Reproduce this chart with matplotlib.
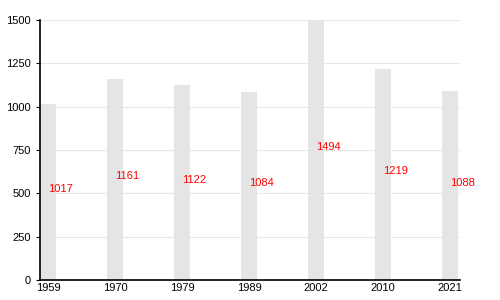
import matplotlib.pyplot as plt
import numpy as np

plt.rcParams['font.family'] = ['Liberation Sans', 'DejaVu Sans']

# population by census year
years = ['1959', '1970', '1979', '1989', '2002', '2010', '2021']
population = [1017, 1161, 1122, 1084, 1494, 1219, 1088]

fig = plt.figure(figsize=(5, 3), dpi=100)
ax = fig.add_axes([0.08, 0.067, 0.84, 0.867])

x = np.arange(len(years))
ax.bar(x, population, width=0.23, color='#e5e5e5', zorder=2)

# value labels, halfway up each bar
for xi, v in zip(x, population):
    ax.text(xi, v / 2, str(v), color='red', fontsize=8, ha='left', va='baseline', zorder=3)

ax.set_xticks(x)
ax.set_xticklabels(years)
ax.set_xlim(-0.12, 6.15)
ax.set_ylim(0, 1500)
ax.set_yticks(range(0, 1501, 250))
ax.yaxis.grid(True, color='#e6e6e6', linewidth=0.8, zorder=0)
ax.set_axisbelow(True)

ax.spines['top'].set_visible(False)
ax.spines['right'].set_visible(False)
ax.spines['left'].set_linewidth(1.2)
ax.spines['bottom'].set_linewidth(1.2)
ax.tick_params(axis='both', labelsize=8, length=3)
ax.tick_params(axis='x', length=0, pad=2)

fig.savefig('out.png')
